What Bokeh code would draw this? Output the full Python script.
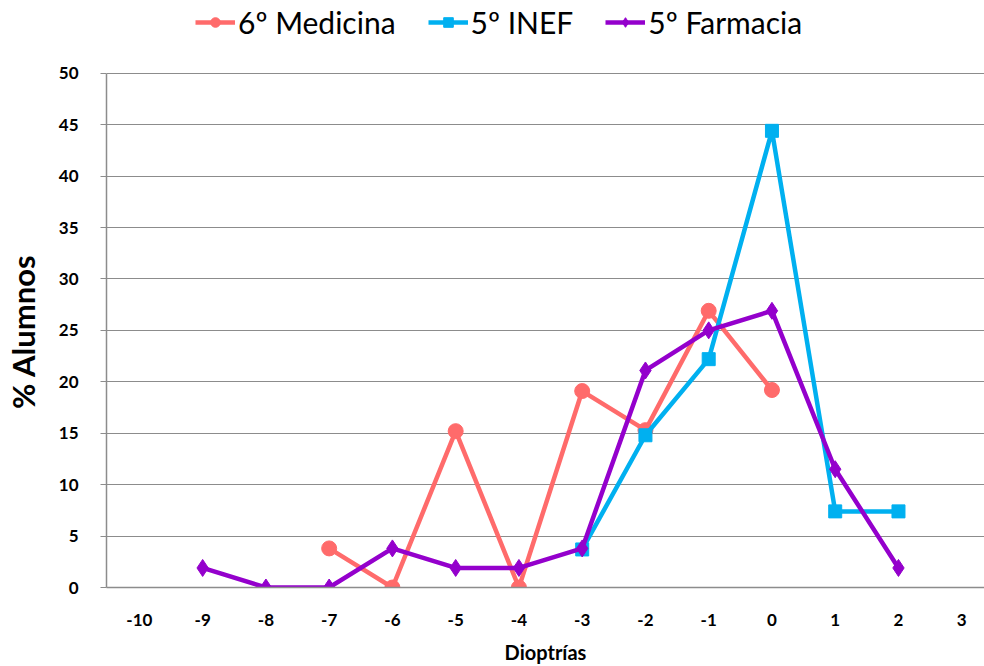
from bokeh.plotting import figure
from bokeh.models import Legend, LegendItem, FixedTicker, Range1d
from bokeh.embed import file_html
from bokeh.resources import INLINE

# Distribution of refraction (dioptres) per student group, in % of students
x_ticks = [-10, -9, -8, -7, -6, -5, -4, -3, -2, -1, 0, 1, 2, 3]
y_ticks = [0, 5, 10, 15, 20, 25, 30, 35, 40, 45, 50]

med_x = [-7, -6, -5, -4, -3, -2, -1, 0]
med_y = [3.8, 0.0, 15.2, 0.0, 19.1, 15.3, 26.9, 19.2]

inef_x = [-3, -2, -1, 0, 1, 2]
inef_y = [3.7, 14.8, 22.2, 44.4, 7.4, 7.4]

farm_x = [-9, -8, -7, -6, -5, -4, -3, -2, -1, 0, 1, 2]
farm_y = [1.9, 0.0, 0.0, 3.8, 1.9, 1.9, 3.8, 21.1, 25.0, 26.9, 11.5, 1.9]

series_names = ["6º Medicina", "5º INEF", "5º Farmacia"]
colors = ["#FF6B6B", "#00B0F0", "#9400CC"]

FONT = "Lato"
GRID = "#8c8c8c"

# the plotting area reaches the top edge so the legend row can sit inside it;
# the y axis line and grid stop at 50
p = figure(width=984, height=666, output_backend="svg", toolbar_location=None,
           x_range=Range1d(-10.52, 3.36), y_range=Range1d(0, 57.07),
           min_border_left=103, min_border_right=0, min_border_top=0,
           min_border_bottom=77)
p.outline_line_color = None
p.background_fill_color = "white"
p.border_fill_color = "white"

# axes
p.xaxis.ticker = FixedTicker(ticks=x_ticks)
p.xaxis.major_label_overrides = {t: str(t) for t in x_ticks}
p.xaxis.major_tick_line_color = None
p.xaxis.minor_tick_line_color = None
p.xaxis.axis_line_color = GRID
p.xaxis.axis_line_width = 1.5
p.xaxis.major_label_text_font = FONT
p.xaxis.major_label_text_font_style = "bold"
p.xaxis.major_label_text_font_size = "17px"
p.xaxis.major_label_text_color = "black"
p.xaxis.major_label_standoff = 20
p.xaxis.axis_label = "Dioptrías"
p.xaxis.axis_label_text_font = FONT
p.xaxis.axis_label_text_font_style = "bold"
p.xaxis.axis_label_text_font_size = "20px"
p.xaxis.axis_label_text_color = "black"
p.xaxis.axis_label_standoff = 11

p.yaxis.ticker = FixedTicker(ticks=y_ticks)
p.yaxis.bounds = (y_ticks[0], y_ticks[-1])
p.yaxis.major_tick_out = 6
p.yaxis.major_tick_in = 0
p.yaxis.major_tick_line_color = GRID
p.yaxis.minor_tick_line_color = None
p.yaxis.axis_line_color = GRID
p.yaxis.axis_line_width = 1.5
p.yaxis.major_label_text_font = FONT
p.yaxis.major_label_text_font_style = "bold"
p.yaxis.major_label_text_font_size = "17px"
p.yaxis.major_label_text_color = "black"
p.yaxis.major_label_standoff = 22
# trailing no-break spaces push the visible title down so it centres on the
# 0-50 span instead of the full height of the plotting area
p.yaxis.axis_label = "% Alumnos" + "\u00a0" * 10
p.yaxis.axis_label_text_font = FONT
p.yaxis.axis_label_text_font_style = "bold"
p.yaxis.axis_label_text_font_size = "31px"
p.yaxis.axis_label_text_color = "black"
p.yaxis.axis_label_standoff = 14

p.xgrid.grid_line_color = None
p.ygrid.grid_line_color = GRID
p.ygrid.grid_line_width = 1.2

items = []
specs = [(med_x, med_y, "circle", 15), (inef_x, inef_y, "square", 13),
         (farm_x, farm_y, "diamond", 17)]
for (xs, ys, marker, size), name, c in zip(specs, series_names, colors):
    ln = p.line(xs, ys, line_color=c, line_width=4.5)
    sc = p.scatter(xs, ys, marker=marker, size=size, fill_color=c, line_color=c)
    items.append(LegendItem(label=name, renderers=[ln, sc]))

legend = Legend(items=items, orientation="horizontal", location=(89, 547),
                glyph_width=40, glyph_height=24, label_standoff=3, spacing=32,
                padding=0, margin=0, border_line_color=None,
                background_fill_alpha=0,
                label_text_font=FONT, label_text_font_size="30px",
                label_text_color="black")
p.add_layout(legend, "center")

open("out.html", "w").write(file_html(p, INLINE))
